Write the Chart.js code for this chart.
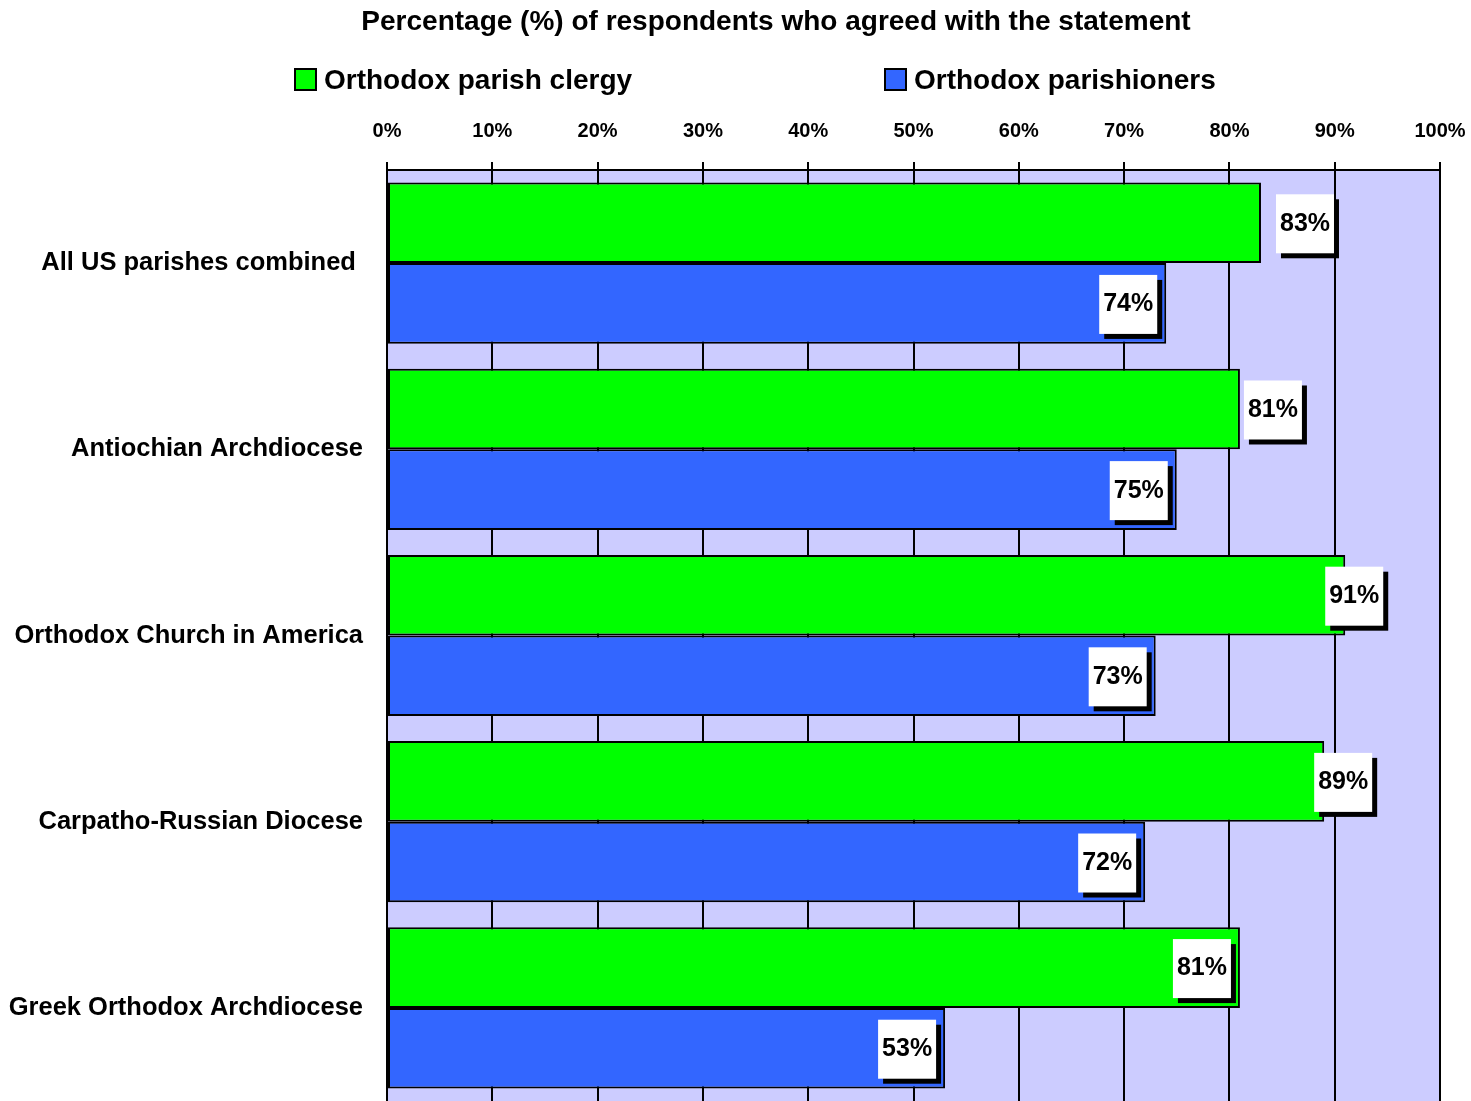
<!DOCTYPE html>
<html>
<head>
<meta charset="utf-8">
<title>Percentage of respondents who agreed with the statement</title>
<script src="https://cdn.jsdelivr.net/npm/chart.js@4.4.1/dist/chart.umd.min.js"></script>
<style>
    html, body { margin: 0; padding: 0; background: #ffffff; overflow: hidden; }
    #chart { display: block; }
</style>
</head>
<body>
<canvas id="chart" width="1471" height="1101"></canvas>
<script>
// --- Data ---
const categories = [
    'All US parishes combined ',
    'Antiochian Archdiocese',
    'Orthodox Church in America',
    'Carpatho-Russian Diocese',
    'Greek Orthodox Archdiocese'
];
const clergyValues = [83, 81, 91, 89, 81];
const parishionerValues = [74, 75, 73, 72, 53];
const seriesNames = ['Orthodox parish clergy', 'Orthodox parishioners'];
const xTicks = [0, 10, 20, 30, 40, 50, 60, 70, 80, 90, 100];
const chartTitle = 'Percentage (%) of respondents who agreed with the statement';

// label nudges (px) for the clergy series, as placed in the original
const clergyLabelShift = [82, 71, 47, 57, 0];

const FONT = '"Liberation Sans", Arial, sans-serif';
const GREEN = '#00ff00';
const BLUE = '#3366ff';
const PLOT_BG = '#ccccff';

// --- Plugins ---
const plotBackground = {
    id: 'plotBackground',
    beforeDraw(chart) {
        const { ctx, chartArea: a } = chart;
        ctx.save();
        ctx.fillStyle = PLOT_BG;
        ctx.fillRect(a.left, a.top, a.right - a.left, a.bottom - a.top);
        ctx.restore();
    }
};

const headerPlugin = {
    id: 'headerPlugin',
    afterDraw(chart) {
        const ctx = chart.ctx;
        ctx.save();
        ctx.fillStyle = '#000';
        ctx.textBaseline = 'middle';
        ctx.textAlign = 'center';
        ctx.font = 'bold 28px ' + FONT;
        ctx.fillText(chartTitle, 776, 22);

        // legend
        const items = [
            { x: 295, color: GREEN, text: seriesNames[0] },
            { x: 885, color: BLUE, text: seriesNames[1] }
        ];
        ctx.textAlign = 'left';
        ctx.font = 'bold 28px ' + FONT;
        items.forEach(it => {
            ctx.fillStyle = it.color;
            ctx.fillRect(it.x, 69, 21, 21);
            ctx.lineWidth = 2;
            ctx.strokeStyle = '#000';
            ctx.strokeRect(it.x, 69, 21, 21);
            ctx.fillStyle = '#000';
            ctx.fillText(it.text, it.x + 29, 81);
        });
        ctx.restore();
    }
};

const valueLabels = {
    id: 'valueLabels',
    afterDatasetsDraw(chart) {
        const ctx = chart.ctx;
        const boxW = 58, boxH = 59, shadow = 5;
        ctx.save();
        ctx.font = 'bold 25px ' + FONT;
        ctx.textAlign = 'center';
        ctx.textBaseline = 'middle';
        chart.data.datasets.forEach((ds, di) => {
            chart.getDatasetMeta(di).data.forEach((bar, i) => {
                const shift = di === 0 ? clergyLabelShift[i] : 0;
                const right = bar.x - 9 + shift;
                const left = right - boxW;
                const top = bar.y - boxH / 2 + 1;
                ctx.fillStyle = '#000';
                ctx.fillRect(left + shadow, top + shadow, boxW, boxH);
                ctx.fillStyle = '#fff';
                ctx.fillRect(left, top, boxW, boxH);
                ctx.fillStyle = '#000';
                ctx.fillText(ds.data[i] + '%', left + boxW / 2, top + boxH / 2);
            });
        });
        ctx.restore();
    }
};

// --- Chart ---
const ctx = document.getElementById('chart').getContext('2d');
new Chart(ctx, {
    type: 'bar',
    data: {
        labels: categories,
        datasets: [
            {
                label: seriesNames[0],
                data: clergyValues,
                backgroundColor: GREEN,
                borderColor: '#000',
                borderWidth: 2,
                borderSkipped: false
            },
            {
                label: seriesNames[1],
                data: parishionerValues,
                backgroundColor: BLUE,
                borderColor: '#000',
                borderWidth: 2,
                borderSkipped: false
            }
        ]
    },
    options: {
        responsive: false,
        animation: false,
        indexAxis: 'y',
        layout: { padding: { top: 100, left: 0, right: 31, bottom: 0 } },
        datasets: { bar: { categoryPercentage: 0.866, barPercentage: 1 } },
        plugins: {
            legend: { display: false },
            title: { display: false },
            tooltip: { enabled: false }
        },
        scales: {
            x: {
                position: 'top',
                min: xTicks[0],
                max: xTicks[xTicks.length - 1],
                afterBuildTicks: (scale) => { scale.ticks = xTicks.map(v => ({ value: v })); },
                afterFit: (scale) => {
                    scale.height = 70;
                    scale.paddingLeft = 0;
                    scale.paddingRight = 0;
                },
                ticks: {
                    color: '#000',
                    font: { family: FONT, size: 20, weight: 'bold' },
                    padding: 19,
                    maxRotation: 0,
                    callback: v => v + '%'
                },
                grid: {
                    color: '#000',
                    lineWidth: 2,
                    tickLength: 8,
                    tickColor: '#000'
                },
                border: { color: '#000', width: 2 }
            },
            y: {
                afterFit: (scale) => {
                    scale.width = 387;
                    scale.paddingTop = 0;
                    scale.paddingBottom = 0;
                },
                ticks: {
                    color: '#000',
                    font: { family: FONT, size: 25.5, weight: 'bold' },
                    padding: 24
                },
                grid: { display: false, drawTicks: false },
                border: { color: '#000', width: 2 }
            }
        }
    },
    plugins: [plotBackground, valueLabels, headerPlugin]
});
</script>
</body>
</html>
